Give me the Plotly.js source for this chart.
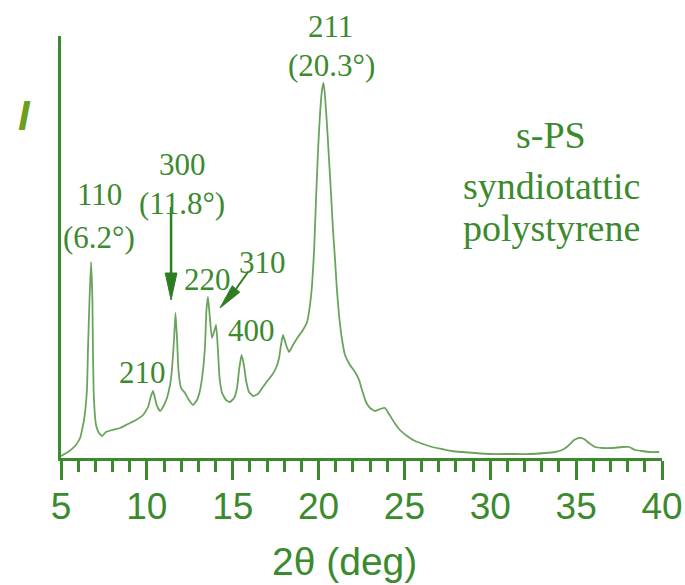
<!DOCTYPE html>
<html>
<head>
<meta charset="utf-8">
<script src="https://cdn.plot.ly/plotly-3.0.1.min.js"></script>
<style>html,body{margin:0;padding:0;background:#fff;}#chart{width:685px;height:585px;}</style>
</head>
<body>
<div id="chart"></div>
<script>
const twoTheta = [5.0,5.41,5.82,6.11,6.34,6.51,6.57,6.66,6.75,6.83,6.86,6.92,7.04,7.21,7.39,7.62,7.97,8.44,8.90,9.37,9.78,10.07,10.24,10.36,10.47,10.59,10.77,11.0,11.17,11.35,11.46,11.58,11.67,11.76,11.84,11.99,12.22,12.45,12.69,12.92,13.10,13.27,13.39,13.47,13.56,13.67,13.79,13.91,14.03,14.14,14.23,14.38,14.61,14.84,15.08,15.25,15.37,15.51,15.66,15.77,15.95,16.18,16.47,16.76,17.06,17.29,17.52,17.70,17.81,17.93,18.11,18.28,18.51,18.80,19.09,19.33,19.50,19.62,19.74,19.85,19.97,20.08,20.20,20.29,20.37,20.49,20.61,20.73,20.84,20.96,21.07,21.19,21.37,21.54,21.83,22.12,22.36,22.53,22.76,23.0,23.29,23.58,23.87,24.10,24.39,24.74,25.15,25.62,26.08,26.61,27.19,27.77,28.35,29.11,29.98,31.15,32.31,33.19,33.77,34.18,34.53,34.88,35.17,35.46,35.75,36.10,36.51,37.09,37.68,38.09,38.43,38.84,39.30,39.83];
const intensity = [2,6,12,20,38,68,108,158,196,158,108,58,33,25,22,26,28,30,34,38,43,51,62,67,60,52,47,53,60,73,88,118,145,118,88,70,65,58,53,58,68,88,113,148,161,140,120,126,133,108,81,65,58,56,60,70,88,103,92,78,66,62,64,71,78,83,90,100,113,123,113,106,113,121,128,136,153,173,208,258,308,343,368,375,363,333,298,263,228,198,168,143,118,103,93,86,78,68,56,50,47,49,50,44,36,28,22,17,14,11,9,7,6,5,4,4,4,5,6,8,12,18,20,19,15,11,10,10,11,11,8,7,6,6];

// axis ticks
const tickValues = [5,10,15,20,25,30,35,40];
const tickLabels = ['5','10','15','20','25','30','35','40'];

// text labels
const peakLabels = ['110','(6.2°)','210','300','(11.8°)','220','310','400','211','(20.3°)'];
const sampleLabels = ['s-PS','syndiotattic','polystyrene'];
const xTitle = '2θ (deg)';
const yTitle = 'I';

const green = '#3b8a2e';
const darkGreen = '#2f7d22';
const curveGreen = '#6aa45c';
const yTop = 422;

// label anchor positions in axis units (x in degrees, y in intensity units)
const peakPos = [
  [7.27,264],[7.21,220],[9.72,86],[12.05,294],[12.05,255],
  [13.56,179],[16.71,196],[16.12,128],[20.67,431],[20.73,393]
];
const samplePos = [[33.54,323],[33.54,272],[33.54,230]];

function toPaperX(v){ return (v-5)/35; }
function toPaperY(v){ return v/yTop; }

const annotations = [];
peakLabels.forEach((t,i)=>{
  annotations.push({x:toPaperX(peakPos[i][0]), y:toPaperY(peakPos[i][1]), xref:'paper', yref:'paper', text:t, showarrow:false,
    xanchor:'center', yanchor:'middle', font:{family:'Liberation Serif, Times New Roman, serif', size:31, color:green}});
});
sampleLabels.forEach((t,i)=>{
  annotations.push({x:toPaperX(samplePos[i][0]), y:toPaperY(samplePos[i][1]), xref:'paper', yref:'paper', text:t, showarrow:false,
    xanchor:'center', yanchor:'middle', font:{family:'Liberation Serif, Times New Roman, serif', size:38, color:green}});
});
annotations.push({x:0.471, y:-0.2464, xref:'paper', yref:'paper', text:xTitle, showarrow:false,
  xanchor:'center', yanchor:'middle', font:{family:'Liberation Sans, Arial, sans-serif', size:39, color:green}});
annotations.push({x:-0.06, y:toPaperY(343), xref:'paper', yref:'paper', text:'<b><i>'+yTitle+'</i></b>', showarrow:false,
  xanchor:'center', yanchor:'middle', font:{family:'Liberation Sans, Arial, sans-serif', size:42, color:'#6e9e1e'}});

const shapes = [
  {type:'line', xref:'x', yref:'y', x0:11.41, y0:251, x1:11.41, y1:183, line:{color:darkGreen, width:2.5}},
  {type:'path', xref:'x', yref:'y', path:'M 11.07,185 L 11.75,185 L 11.41,158 Z', fillcolor:darkGreen, line:{color:darkGreen, width:1}},
  {type:'line', xref:'x', yref:'y', x0:15.89, y0:186, x1:15.19, y1:169, line:{color:darkGreen, width:2}},
  {type:'path', xref:'x', yref:'y', path:'M 15.41,165.8 L 14.97,172.2 L 14.26,150 Z', fillcolor:darkGreen, line:{color:darkGreen, width:1}}
];

const trace = {x:twoTheta, y:intensity, type:'scatter', mode:'lines',
  line:{color:curveGreen, width:1.8, shape:'spline', smoothing:0.4}, hoverinfo:'skip'};

const layout = {
  width:685, height:585,
  margin:{l:61, r:23, t:36, b:127},
  paper_bgcolor:'#ffffff', plot_bgcolor:'#ffffff',
  showlegend:false,
  xaxis:{range:[5,40], tickvals:tickValues, ticktext:tickLabels, ticks:'outside', ticklen:19, tickwidth:3,
    tickcolor:green, showline:true, linecolor:green, linewidth:3, showgrid:false, zeroline:false,
    ticklabelstandoff:-5,
    tickfont:{family:'Liberation Sans, Arial, sans-serif', size:37, color:green},
    minor:{dtick:1, ticks:'outside', ticklen:11, tickwidth:3, tickcolor:green, showgrid:false}},
  yaxis:{range:[0,yTop], showticklabels:false, ticks:'', showline:true, linecolor:green, linewidth:3,
    showgrid:false, zeroline:false},
  annotations:annotations,
  shapes:shapes
};

Plotly.newPlot('chart',[trace],layout,{staticPlot:true});
</script>
</body>
</html>
